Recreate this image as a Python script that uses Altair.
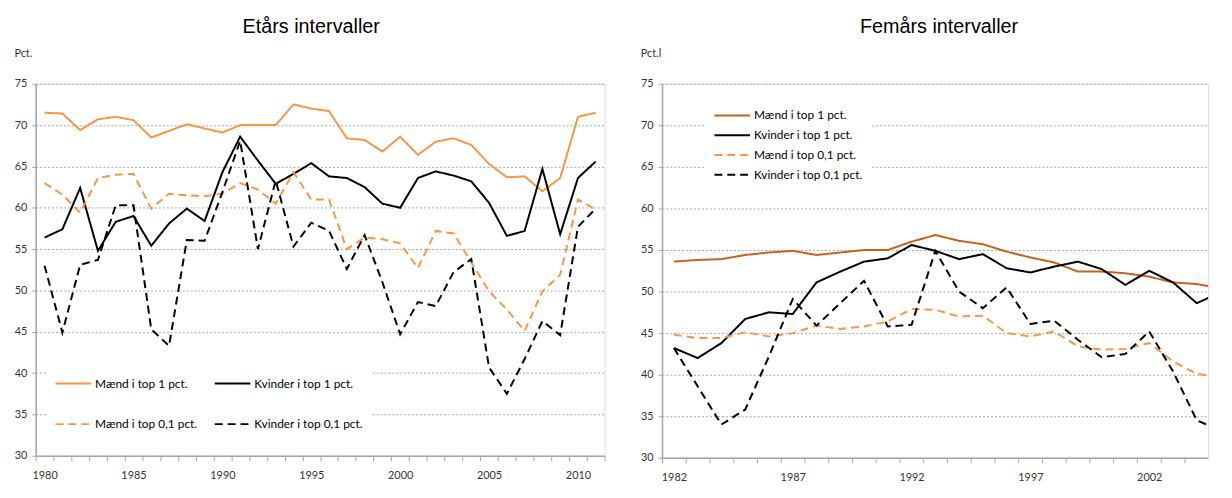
import altair as alt
import pandas as pd

series = ["Mænd i top 1 pct.", "Kvinder i top 1 pct.", "Mænd i top 0,1 pct.", "Kvinder i top 0,1 pct."]

# ---- Left panel: Etårs intervaller (1980-2011)
years_left = list(range(1980, 2012))
maend1_left = [71.5, 71.4, 69.4, 70.7, 71.0, 70.6, 68.5, 69.3, 70.1, 69.6,
               69.1, 70.0, 70.0, 70.0, 72.5, 72.0, 71.7, 68.4, 68.2, 66.8,
               68.6, 66.4, 68.0, 68.4, 67.6, 65.3, 63.7, 63.8, 62.0, 63.6,
               71.0, 71.5]
kvinder1_left = [56.4, 57.4, 62.4, 54.8, 58.3, 59.0, 55.4, 58.1, 59.9, 58.4,
                 64.3, 68.6, 65.7, 62.9, 64.1, 65.4, 63.8, 63.6, 62.5, 60.5,
                 60.0, 63.6, 64.4, 63.9, 63.2, 60.6, 56.6, 57.2, 64.7, 56.8,
                 63.6, 65.6]
maend01_left = [63.0, 61.6, 59.4, 63.6, 64.0, 64.1, 59.9, 61.7, 61.5, 61.4,
                61.7, 63.0, 62.2, 60.5, 64.3, 61.0, 61.0, 55.0, 56.4, 56.2,
                55.7, 52.7, 57.2, 56.9, 53.4, 49.9, 47.7, 45.1, 49.9, 51.9,
                61.0, 59.8]
kvinder01_left = [53.0, 44.9, 53.1, 53.7, 60.3, 60.3, 45.3, 43.3, 56.1, 56.0,
                  61.9, 68.1, 55.0, 63.3, 55.3, 58.2, 57.2, 52.6, 56.7, 51.0,
                  44.7, 48.6, 48.1, 52.2, 53.8, 40.7, 37.5, 41.7, 46.3, 44.6,
                  57.7, 59.9]

# ---- Right panel: Femårs intervaller (1982-2005)
years_right = list(range(1982, 2006))
maend1_right = [53.6, 53.8, 53.9, 54.4, 54.7, 54.9, 54.4, 54.7, 55.0, 55.0,
                56.0, 56.8, 56.1, 55.7, 54.8, 54.1, 53.5, 52.4, 52.4, 52.2,
                51.8, 51.1, 50.9, 50.4]
kvinder1_right = [43.2, 42.0, 43.8, 46.7, 47.5, 47.3, 51.1, 52.4, 53.6, 54.0,
                  55.6, 54.9, 53.9, 54.5, 52.8, 52.3, 53.0, 53.6, 52.7, 50.8,
                  52.5, 51.1, 48.6, 49.9]
maend01_right = [44.8, 44.4, 44.4, 45.1, 44.6, 45.0, 45.9, 45.5, 45.8, 46.4,
                 47.9, 47.8, 47.0, 47.1, 45.0, 44.6, 45.2, 43.4, 43.0, 43.1,
                 43.8, 41.6, 40.1, 39.7]
kvinder01_right = [43.2, 38.6, 34.0, 35.8, 42.2, 49.1, 45.9, 48.6, 51.3, 45.8,
                   46.0, 54.9, 50.0, 48.0, 50.5, 46.1, 46.5, 44.2, 42.1, 42.5,
                   45.2, 40.4, 34.5, 33.3]

y_ticks = [30, 35, 40, 45, 50, 55, 60, 65, 70, 75]
left_labels = [1980, 1985, 1990, 1995, 2000, 2005, 2010]
right_labels = [1982, 1987, 1992, 1997, 2002]

FONT = "Lato"
TITLE_FONT = "Liberation Sans"
AXIS_GRAY = "#A6A6A6"
TEXT = "#333333"
# legend line symbol: a horizontal stroke drawn from the entry's left edge
SYMBOL_PATH = "M-1,0H5"


def long_df(years, cols):
    rows = []
    for s, vals in zip(series, cols):
        for y, v in zip(years, vals):
            rows.append({"year": y, "value": v, "series": s})
    return pd.DataFrame(rows)


def panel(df, title, ytitle, x_dom, tick_vals, label_vals, colors, width, height,
          legend_x, legend_y, columns, row_pad, title_dx):
    x_scale = alt.Scale(domain=x_dom, nice=False, zero=False)
    y_scale = alt.Scale(domain=[30, 75], nice=False, zero=False)
    leg = alt.Legend(
        title=None, orient="none", legendX=legend_x, legendY=legend_y,
        columns=columns, direction="horizontal", symbolType=SYMBOL_PATH,
        symbolSize=144, symbolStrokeWidth=2, labelOffset=27,
        labelFont=FONT, labelFontSize=12, labelColor="#000000",
        fillColor="white", padding=8, rowPadding=row_pad, columnPadding=13,
        labelLimit=300,
    )
    lines = alt.Chart(df).mark_line(strokeWidth=2, clip=True).encode(
        x=alt.X("year:Q", scale=x_scale,
                axis=alt.Axis(values=tick_vals, labels=False, ticks=True, tickSize=5,
                              tickColor=AXIS_GRAY, domainColor=AXIS_GRAY, domainWidth=1.5,
                              grid=False, title=None, orient="bottom")),
        y=alt.Y("value:Q", scale=y_scale,
                axis=alt.Axis(values=y_ticks, grid=True, gridDash=[2, 2], gridColor=AXIS_GRAY,
                              gridWidth=1, domainColor=AXIS_GRAY, domainWidth=1.5,
                              tickColor=AXIS_GRAY, tickSize=4, labelPadding=5,
                              labelFont=FONT, labelFontSize=11, labelColor=TEXT,
                              title=ytitle, titleAngle=0, titleAlign="left",
                              titleBaseline="middle", titleX=-22, titleY=-31,
                              titleFont=FONT, titleFontSize=11, titleFontWeight="normal",
                              titleColor=TEXT)),
        color=alt.Color("series:N", scale=alt.Scale(domain=series, range=colors), legend=leg),
        strokeDash=alt.StrokeDash("series:N",
                                  scale=alt.Scale(domain=series,
                                                  range=[[1, 0], [1, 0], [8, 5], [8, 5]]),
                                  legend=leg),
        order=alt.Order("year:Q"),
    )
    labels = alt.Chart(df).mark_point(opacity=0).encode(
        x=alt.X("year:Q", scale=x_scale,
                axis=alt.Axis(values=label_vals, ticks=False, domain=False, grid=False,
                              labelPadding=14, labelFont=FONT, labelFontSize=11,
                              labelColor=TEXT, title=None, orient="bottom",
                              format="d")),
    )
    return alt.layer(lines, labels).resolve_axis(x="independent").properties(
        width=width, height=height,
        title=alt.TitleParams(title, font=TITLE_FONT, fontSize=20, fontWeight="normal",
                              color="#000000", anchor="middle", offset=10, dx=title_dx),
    )


left_df = long_df(years_left, [maend1_left, kvinder1_left, maend01_left, kvinder01_left])
right_df = long_df(years_right, [maend1_right, kvinder1_right, maend01_right, kvinder01_right])

left = panel(left_df, "Etårs intervaller", "Pct.", [1979.5, 2011.5],
             [y + 0.5 for y in range(1979, 2012)], left_labels,
             ["#F79646", "#000000", "#F79646", "#000000"], 575, 376,
             11, 288, 2, 28, -9)
right = panel(right_df, "Femårs intervaller", "Pct.l", [1981.5, 2004.48],
              [y + 0.5 for y in range(1981, 2004)], right_labels,
              ["#C9601C", "#000000", "#F79646", "#000000"], 552, 378,
              44, 17, 1, 7, 4)

chart = alt.hconcat(left, right, spacing=34).resolve_scale(
    x="independent", y="independent", color="independent", strokeDash="independent"
).resolve_legend(color="independent", strokeDash="independent").properties(
    padding={"left": 5, "top": 6, "right": 0, "bottom": 5}
).configure_view(stroke=None).configure(background="white")

chart.save("out.html", embed_options={"renderer": "svg", "actions": False})
